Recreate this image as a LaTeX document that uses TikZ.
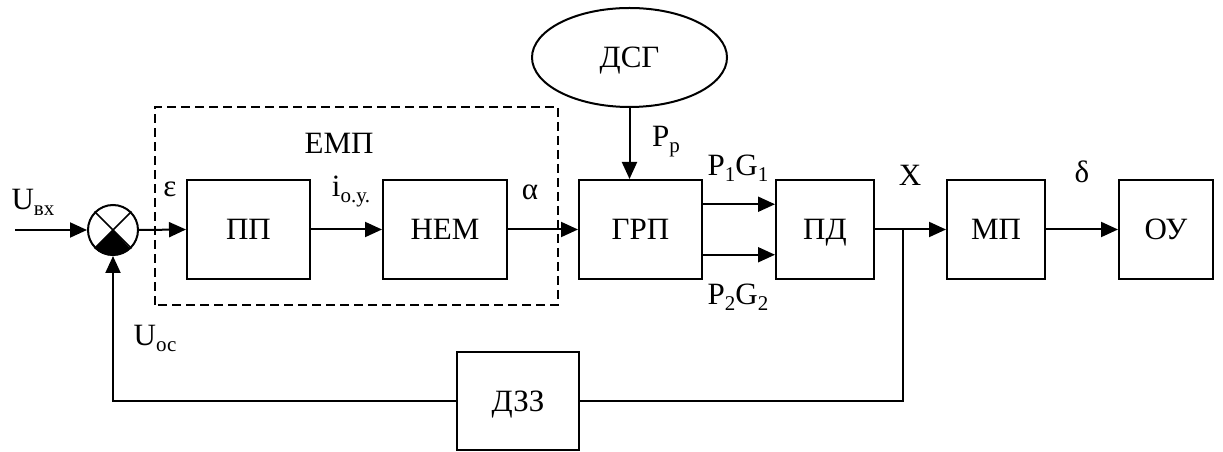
\documentclass[tikz,border=0pt]{standalone}
\usepackage{fontspec}
\setmainfont{Liberation Serif}
\usetikzlibrary{arrows.meta,shapes.geometric,calc}
\newcommand{\lowsub}[1]{\raisebox{-6pt}{\fontsize{21}{21}\selectfont #1}}
\tikzset{
  blk/.style={draw, line width=2pt, minimum height=99pt, inner sep=0pt, text height=21pt, text depth=0pt},
  lbl/.style={inner sep=0pt, anchor=center},
  arr/.style={line width=2pt, -{Triangle[length=17pt,width=15pt]}},
  ln/.style={line width=2pt},
}
\begin{document}
\begin{tikzpicture}[x=1pt,y=1pt,font=\fontsize{31}{34}\selectfont]
\useasboundingbox (0,0) rectangle (1223,452);
% dashed group
\draw[line width=1.8pt, dash pattern=on 9pt off 5pt] (155,147) rectangle (558,345);
% blocks
\node[circle, draw, line width=2pt, minimum size=50pt, inner sep=0pt] (sum) at (113,222) {};
\node[blk, minimum width=123pt] (pp) at (248.5,222.5) {ПП};
\node[blk, minimum width=124pt] (nem) at (445,222.5) {НЕМ};
\node[blk, minimum width=123pt] (grp) at (640.5,222.5) {ГРП};
\node[blk, minimum width=98pt] (pd) at (825,222.5) {ПД};
\node[blk, minimum width=98pt] (mp) at (996,222.5) {МП};
\node[blk, minimum width=94pt] (ou) at (1166,222.5) {ОУ};
\node[blk, minimum width=122pt, minimum height=98pt] (dzz) at (518,51) {ДЗЗ};
\node[ellipse, draw, line width=2pt, minimum width=195pt, minimum height=99pt, inner sep=0pt, text height=21pt, text depth=0pt] (dsg) at (629.5,394.5) {ДСГ};
% summing junction details
\fill (sum.center) -- (sum.225) arc[start angle=225, end angle=315, radius=25pt] -- cycle;
\draw[line width=1.6pt] (sum.45) -- (sum.225) (sum.135) -- (sum.315);
% coordinates
\coordinate (in) at (15,222);
\coordinate (j) at (903,222);
% connectors
\draw[arr] (in) -- (sum.west);
\draw[arr] (sum.east) -- (pp.west);
\draw[arr] (pp.east) -- (nem.west);
\draw[arr] (nem.east) -- (grp.west);
\draw[arr] (dsg.south) -- (dsg.south |- grp.north);
\draw[arr] ($(grp.north east)!0.25!(grp.south east)$) -- ($(pd.north west)!0.25!(pd.south west)$);
\draw[arr] ($(grp.north east)!0.75!(grp.south east)$) -- ($(pd.north west)!0.75!(pd.south west)$);
\draw[arr] (pd.east) -- (mp.west);
\draw[arr] (mp.east) -- (ou.west);
\draw[ln] (j) |- (dzz.east);
\draw[arr] (dzz.west) -| (sum.south);
% labels
\node[lbl] (luvx) at (33,250) {U\lowsub{вх}};
\node[lbl] (leps) at (170,263) {ε};
\node[lbl] (li) at (351,260) {i\lowsub{о.у.}};
\node[lbl] (lalpha) at (530,260) {α};
\node[lbl] (lemp) at (339,309) {ЕМП};
\node[lbl] (lpp) at (666,310) {P\lowsub{р}};
\node[lbl] (lp1) at (738,284) {P\lowsub{1}G\lowsub{1}};
\node[lbl] (lp2) at (738,155) {P\lowsub{2}G\lowsub{2}};
\node[lbl] (lx) at (910,277) {X};
\node[lbl] (ldelta) at (1082,280) {δ};
\node[lbl] (luoc) at (155,114) {U\lowsub{ос}};
\end{tikzpicture}
\end{document}
